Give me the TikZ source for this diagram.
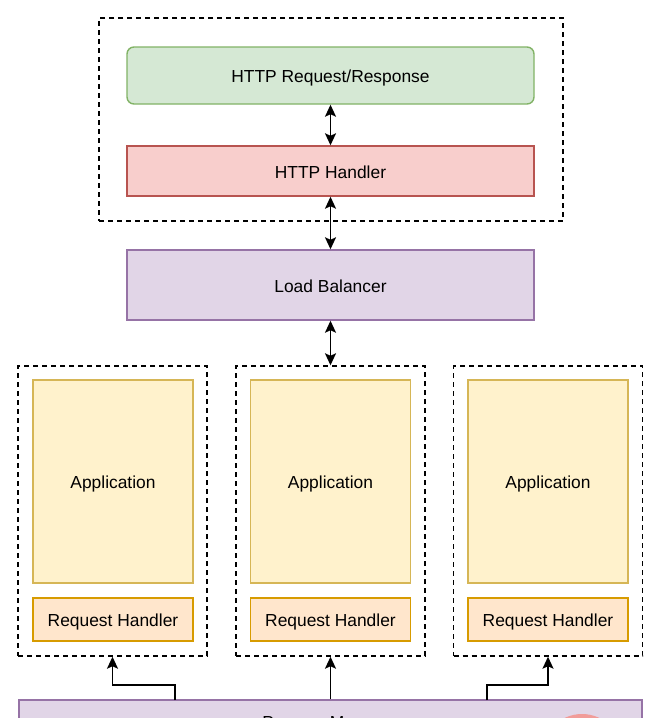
\documentclass[tikz,border=0pt]{standalone}
\usepackage{fontspec}
\setmainfont{Liberation Sans}
\usetikzlibrary{arrows.meta}
\definecolor{gfill}{HTML}{D5E8D4}\definecolor{gdraw}{HTML}{82B366}
\definecolor{rfill}{HTML}{F8CECC}\definecolor{rdraw}{HTML}{B85450}
\definecolor{pfill}{HTML}{E1D5E7}\definecolor{pdraw}{HTML}{9673A6}
\definecolor{yfill}{HTML}{FFF2CC}\definecolor{ydraw}{HTML}{D6B656}
\definecolor{ofill}{HTML}{FFE6CC}\definecolor{odraw}{HTML}{D79B00}
\definecolor{redc}{HTML}{F19C99}
\tikzset{
  box/.style={draw, line width=1.4pt, inner sep=0pt, text height=14.5pt, text depth=0pt, font=\fontsize{17.4}{20}\selectfont, text=black},
  dashbox/.style={draw, line width=1.4pt, dash pattern=on 5pt off 4pt, inner sep=0pt},
  conn/.style={line width=1.7pt, {Stealth[length=12pt,width=11pt,inset=2.5pt]}-{Stealth[length=12pt,width=11pt,inset=2.5pt]}},
  uparr/.style={line width=1.7pt, -{Stealth[length=12pt,width=11pt,inset=2.5pt]}},
}
\begin{document}
\begin{tikzpicture}[x=1pt,y=-1pt]
\clip (0,0) rectangle (660,718);
\fill[white] (0,0) rectangle (660,718);
% top group
\node[dashbox, minimum width=464pt, minimum height=203pt] (top) at (331,119.5) {};
\node[box, fill=gfill, draw=gdraw, rounded corners=7pt, minimum width=407pt, minimum height=57pt] (http) at (330.5,75.5) {HTTP Request/Response};
\node[box, fill=rfill, draw=rdraw, minimum width=407pt, minimum height=50pt] (hh) at (330.5,171) {HTTP Handler};
\node[box, fill=pfill, draw=pdraw, minimum width=407pt, minimum height=70pt] (lb) at (330.5,285) {Load Balancer};
% application groups
\foreach \n/\cx/\gx in {a/113/112.5, b/330.5/330.5, c/548/548} {
  \node[dashbox, minimum width=189pt, minimum height=290pt] (g\n) at (\gx,511) {};
  \node[box, fill=yfill, draw=ydraw, minimum width=160pt, minimum height=203pt] (app\n) at (\cx,481.5) {Application};
  \node[box, fill=ofill, draw=odraw, minimum width=160pt, minimum height=43pt] (rh\n) at (\cx,619.5) {Request Handler};
}
% bottom box
\node[box, fill=pfill, draw=pdraw, minimum width=623pt, minimum height=42pt] (pm) at (330.5,721) {Process Manager};
\fill[redc] (582,754) circle (40pt);
\coordinate (pmL) at (175,700);
\coordinate (pmR) at (487,700);
% connectors
\draw[conn] (http.south) -- (hh.north);
\draw[conn] (hh.south) -- (lb.north);
\draw[conn] (lb.south) -- (gb.north);
\draw[uparr] (pmL) -- (175,685) -| (ga.south);
\draw[uparr] (pm.north) -- (gb.south);
\draw[uparr] (pmR) -- (487,685) -| (gc.south);
\end{tikzpicture}
\end{document}
